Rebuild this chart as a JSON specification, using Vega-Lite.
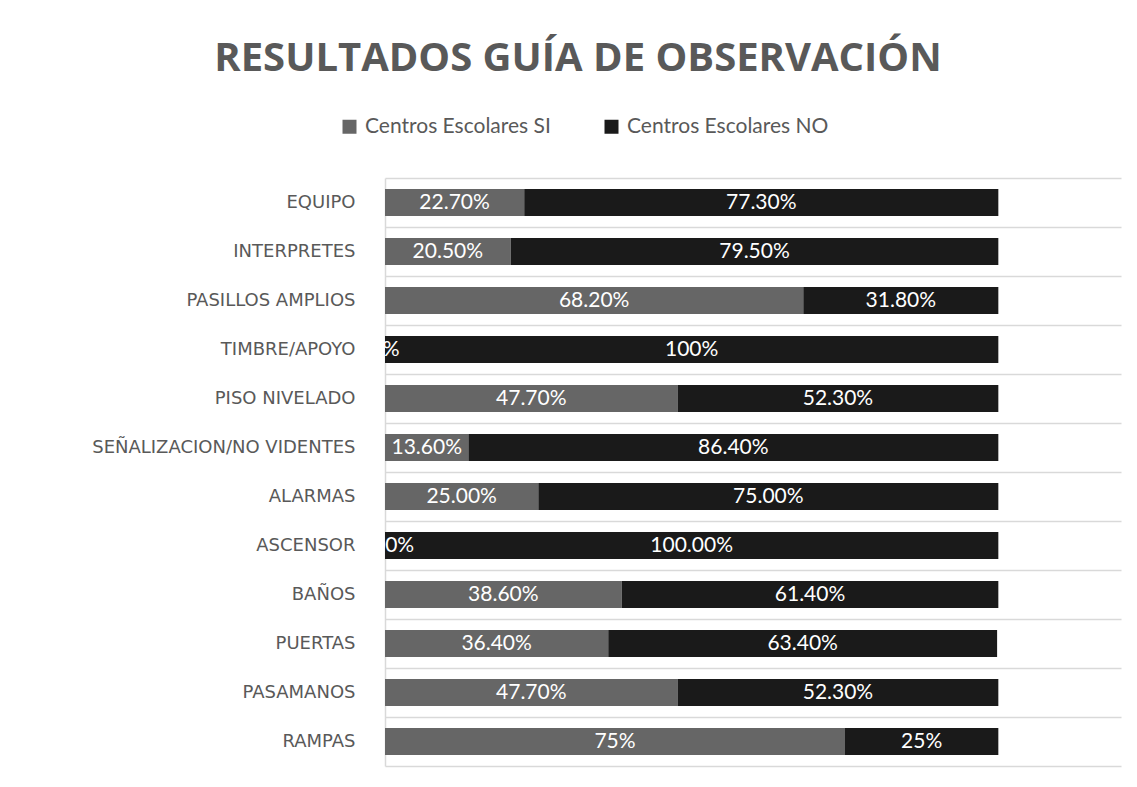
{
  "$schema": "https://vega.github.io/schema/vega-lite/v6.json",
  "width": 736,
  "height": 588,
  "autosize": {"type": "none"},
  "padding": {"left": 385, "top": 178, "right": 16, "bottom": 21},
  "background": "white",
  "config": {"view": {"stroke": null}},
  "title": {
    "text": "RESULTADOS GUÍA DE OBSERVACIÓN",
    "anchor": "middle",
    "frame": "group",
    "dx": -175,
    "dy": -27,
    "font": "Open Sans",
    "fontSize": 40,
    "fontWeight": "bold",
    "color": "#595959",
    "offset": 10
  },
  "data": {
    "values": [
      {"cat": "EQUIPO", "series": "Centros Escolares  SI", "value": 22.7, "label": "22.70%"},
      {"cat": "EQUIPO", "series": "Centros Escolares  NO", "value": 77.3, "label": "77.30%"},
      {"cat": "INTERPRETES", "series": "Centros Escolares  SI", "value": 20.5, "label": "20.50%"},
      {"cat": "INTERPRETES", "series": "Centros Escolares  NO", "value": 79.5, "label": "79.50%"},
      {"cat": "PASILLOS AMPLIOS", "series": "Centros Escolares  SI", "value": 68.2, "label": "68.20%"},
      {"cat": "PASILLOS AMPLIOS", "series": "Centros Escolares  NO", "value": 31.8, "label": "31.80%"},
      {"cat": "TIMBRE/APOYO", "series": "Centros Escolares  SI", "value": 0, "label": "0%"},
      {"cat": "TIMBRE/APOYO", "series": "Centros Escolares  NO", "value": 100, "label": "100%"},
      {"cat": "PISO NIVELADO", "series": "Centros Escolares  SI", "value": 47.7, "label": "47.70%"},
      {"cat": "PISO NIVELADO", "series": "Centros Escolares  NO", "value": 52.3, "label": "52.30%"},
      {"cat": "SEÑALIZACION/NO VIDENTES", "series": "Centros Escolares  SI", "value": 13.6, "label": "13.60%"},
      {"cat": "SEÑALIZACION/NO VIDENTES", "series": "Centros Escolares  NO", "value": 86.4, "label": "86.40%"},
      {"cat": "ALARMAS", "series": "Centros Escolares  SI", "value": 25, "label": "25.00%"},
      {"cat": "ALARMAS", "series": "Centros Escolares  NO", "value": 75, "label": "75.00%"},
      {"cat": "ASCENSOR", "series": "Centros Escolares  SI", "value": 0, "label": "0.00%"},
      {"cat": "ASCENSOR", "series": "Centros Escolares  NO", "value": 100, "label": "100.00%"},
      {"cat": "BAÑOS", "series": "Centros Escolares  SI", "value": 38.6, "label": "38.60%"},
      {"cat": "BAÑOS", "series": "Centros Escolares  NO", "value": 61.4, "label": "61.40%"},
      {"cat": "PUERTAS", "series": "Centros Escolares  SI", "value": 36.4, "label": "36.40%"},
      {"cat": "PUERTAS", "series": "Centros Escolares  NO", "value": 63.4, "label": "63.40%"},
      {"cat": "PASAMANOS", "series": "Centros Escolares  SI", "value": 47.7, "label": "47.70%"},
      {"cat": "PASAMANOS", "series": "Centros Escolares  NO", "value": 52.3, "label": "52.30%"},
      {"cat": "RAMPAS", "series": "Centros Escolares  SI", "value": 75, "label": "75%"},
      {"cat": "RAMPAS", "series": "Centros Escolares  NO", "value": 25, "label": "25%"}
    ]
  },
  "transform": [
    {"stack": "value", "groupby": ["cat"], "sort": [{"field": "series", "order": "descending"}], "as": ["x0", "x1"]},
    {"calculate": "(datum.x0 + datum.x1) / 2", "as": "mid"}
  ],
  "encoding": {
    "y": {
      "field": "cat",
      "type": "nominal",
      "sort": null,
      "scale": {"paddingInner": 0, "paddingOuter": 0},
      "axis": {
        "title": null,
        "domainColor": "#d9d9d9",
        "domainWidth": 1.5,
        "ticks": false,
        "labelFont": "DejaVu Sans",
        "labelFontSize": 18,
        "labelColor": "#595959",
        "labelPadding": 30,
        "labelLimit": 400,
        "grid": true,
        "gridColor": "#d9d9d9",
        "gridWidth": 1.5,
        "tickBand": "extent"
      }
    }
  },
  "layer": [
    {
      "mark": {"type": "bar", "height": {"band": 0.55}},
      "encoding": {
        "x": {"field": "x0", "type": "quantitative", "scale": {"domain": [0, 120]}, "axis": null},
        "x2": {"field": "x1"},
        "color": {
          "field": "series",
          "type": "nominal",
          "scale": {"domain": ["Centros Escolares  SI", "Centros Escolares  NO"], "range": ["#666666", "#1a1a1a"]},
          "legend": {
            "title": null,
            "orient": "none",
            "direction": "horizontal",
            "legendX": -46,
            "legendY": -62,
            "padding": 0,
            "symbolType": "square",
            "symbolSize": 196,
            "symbolStrokeWidth": 0,
            "labelFont": "Lato",
            "labelFontSize": 21,
            "labelColor": "#595959",
            "labelOffset": 5,
            "labelLimit": 400,
            "columnPadding": 44
          }
        }
      }
    },
    {
      "mark": {"type": "text", "color": "white", "font": "Lato", "fontSize": 21},
      "encoding": {
        "x": {"field": "mid", "type": "quantitative"},
        "text": {"field": "label"}
      }
    }
  ]
}
